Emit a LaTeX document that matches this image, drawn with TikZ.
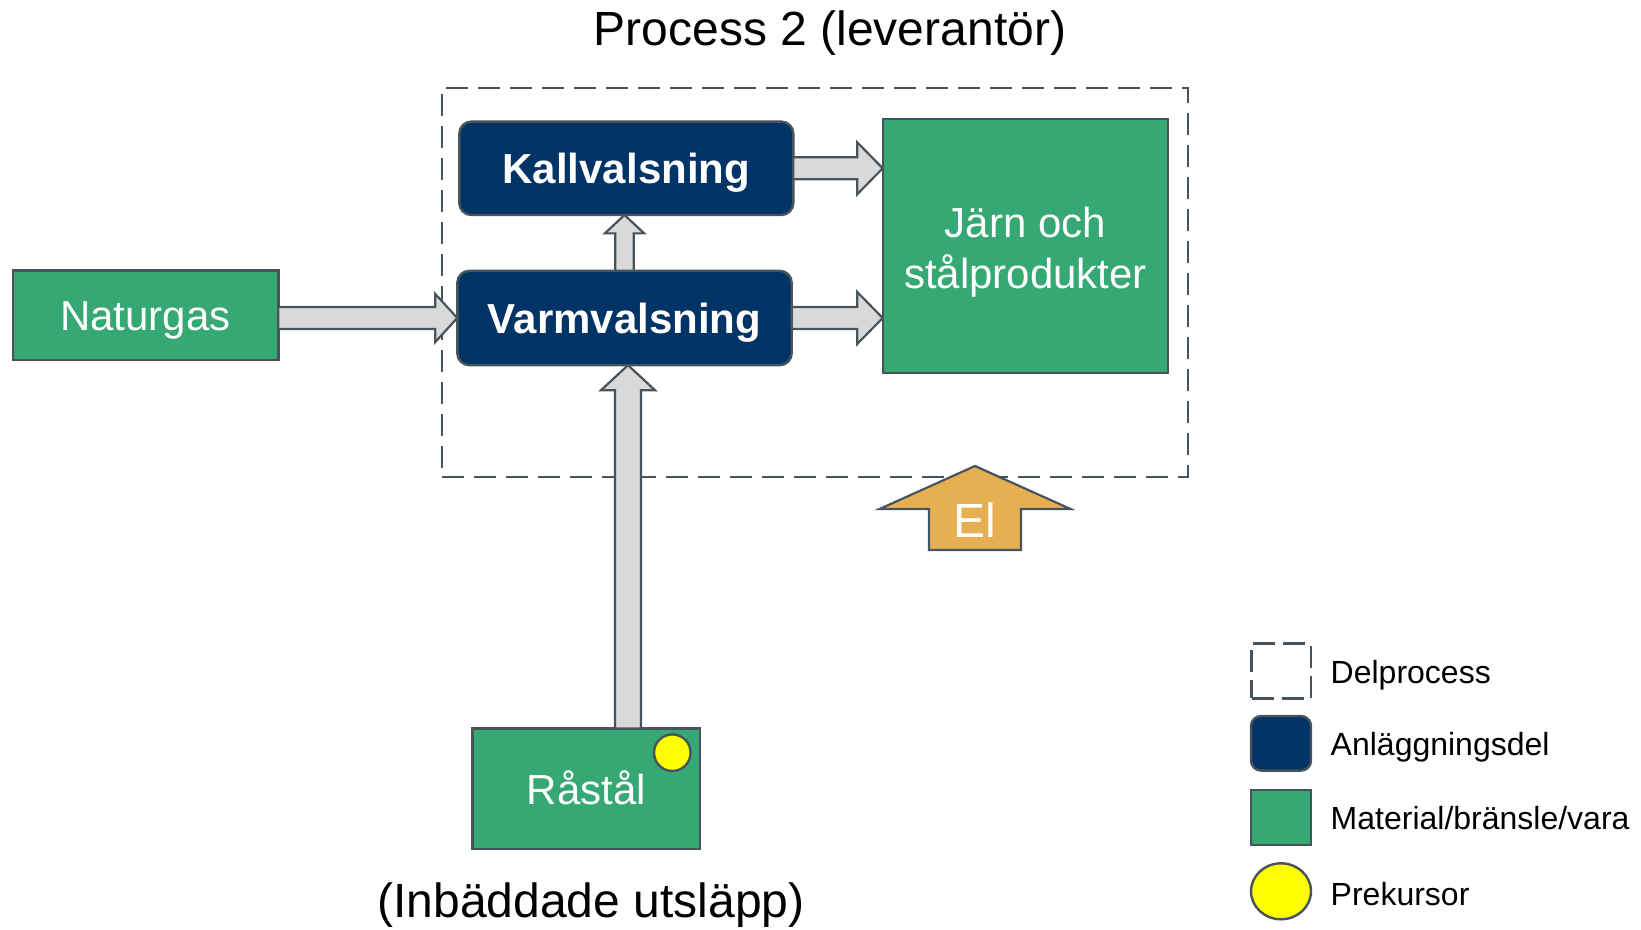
\documentclass[tikz,border=0pt]{standalone}
\usepackage{fontspec}
\setmainfont{Liberation Sans}
\usetikzlibrary{calc,shapes.geometric}

\definecolor{navy}{RGB}{0,52,102}
\definecolor{matgreen}{RGB}{54,168,116}
\definecolor{slate}{RGB}{72,84,92}
\definecolor{flowgray}{RGB}{217,217,217}
\definecolor{elgold}{RGB}{230,176,82}
\definecolor{prekyellow}{RGB}{255,255,0}

% block arrow: [style]{start}{tip}{shaft half-width}{head half-width}{head length}
\newcommand\blockarrow[6][]{%
  \coordinate (ba-h) at ($(#3)!#6!(#2)$);
  \draw[flowarrow,#1]
    ($(#2)!#4!90:(#3)$) -- ($(ba-h)!#4!-90:(#2)$) -- ($(ba-h)!#5!-90:(#2)$)
    -- (#3) -- ($(ba-h)!#5!90:(#2)$) -- ($(ba-h)!#4!90:(#2)$)
    -- ($(#2)!#4!-90:(#3)$) -- cycle;
}

\begin{document}
\begin{tikzpicture}[x=0.5pt,y=-0.5pt,
  every node/.style={inner sep=0pt, outer sep=0pt},
  onetext/.style={text height=19.5pt, text depth=4.2pt},
  plant/.style={draw=slate, line width=1.2pt, fill=navy, rounded corners=6pt,
    text=white, font=\fontsize{21}{25}\selectfont\bfseries, onetext},
  material/.style={draw=slate, line width=1.2pt, fill=matgreen,
    text=white, font=\fontsize{21}{25.5}\selectfont},
  subproc/.style={draw=slate, line width=1.2pt, dash pattern=on 11pt off 5pt},
  prek/.style={draw=slate, line width=1.2pt, fill=prekyellow, circle},
  flowarrow/.style={draw=slate, line width=1.1pt, fill=flowgray, line join=miter},
  heading/.style={font=\fontsize{24}{28}\selectfont},
  legtext/.style={anchor=base west, font=\fontsize{16}{19}\selectfont},
]
\useasboundingbox (0,0) rectangle (1641,930);

% sub-process frame
\node[subproc, minimum width=373.2pt, minimum height=194.5pt] (sub) at (814.9,282.5) {};
\node[heading] (title) at (830,33) {Process 2 (leverantör)};

% plant parts
\node[plant, minimum width=167pt, minimum height=46.7pt] (kall) at (626.3,168.3) {Kallvalsning};
\node[plant, minimum width=167.2pt, minimum height=47.2pt] (varm) at (624.5,318) {Varmvalsning};

% materials
\node[material, minimum width=142.7pt, minimum height=126.7pt] (jarn) at (1025.4,246) {};
\node[text=white, font=\fontsize{21}{25.5}\selectfont, align=center] (jarn-t) at ($(jarn.center)+(0,6)$)
  {Järn och\\stålprodukter};
\node[material, onetext, minimum width=132.8pt, minimum height=44.7pt] (nat) at (145.5,315.3) {Naturgas};
\node[material, onetext, minimum width=113.8pt, minimum height=60.3pt] (rastal) at (586.2,788.7) {Råstål};
\node[prek, minimum size=18.3pt] (rastal-prek) at (672.3,752.7) {};
\node[heading] (embedded) at (591,905) {(Inbäddade utsläpp)};

% flows
\coordinate (nat-out) at (nat.east |- varm.west);
\blockarrow{nat-out}{varm.west}{5.5pt}{12pt}{11pt}
\coordinate (kall-in) at (kall.east -| jarn.west);
\blockarrow{kall.east}{kall-in}{5.5pt}{13pt}{12.75pt}
\coordinate (varm-in) at (varm.east -| jarn.west);
\blockarrow{varm.east}{varm-in}{5.5pt}{13pt}{12.75pt}
\coordinate (kall-up) at (varm.north |- kall.south);
\blockarrow{varm.north}{kall-up}{4.6pt}{9.85pt}{9.2pt}
\coordinate (rastal-out) at ($(varm.south |- rastal.north)+(3.5,0)$);
\coordinate (varm-bottom) at ($(varm.south)+(3.5,0)$);
\blockarrow{rastal-out}{varm-bottom}{6.5pt}{13.5pt}{12.5pt}

% electricity supply
\coordinate (el-base) at (975,550);
\coordinate (el-tip) at (975,466);
\blockarrow[fill=elgold]{el-base}{el-tip}{23pt}{47.75pt}{21.5pt}
\node[text=white, font=\fontsize{24}{28}\selectfont] (el) at (975,520) {El};

% legend
\node[subproc, dash pattern=on 11pt off 4pt, minimum width=29.7pt, minimum height=27.5pt] (leg-sub) at (1281.3,670.8) {};
\node[plant, rounded corners=5pt, minimum width=30pt, minimum height=27.3pt] (leg-plant) at (1281,743.3) {};
\node[material, minimum width=30pt, minimum height=27.5pt] (leg-mat) at (1281,817.5) {};
\node[draw=slate, line width=1.2pt, fill=prekyellow, ellipse, minimum width=30pt, minimum height=28pt] (leg-prek) at (1281,891.3) {};
\node[legtext] (leg-sub-t) at (1330.7,683.3) {Delprocess};
\node[legtext] (leg-plant-t) at (1330.7,755.7) {Anläggningsdel};
\node[legtext] (leg-mat-t) at (1330.7,829.3) {Material/bränsle/vara};
\node[legtext] (leg-prek-t) at (1330.7,905) {Prekursor};
\end{tikzpicture}
\end{document}
